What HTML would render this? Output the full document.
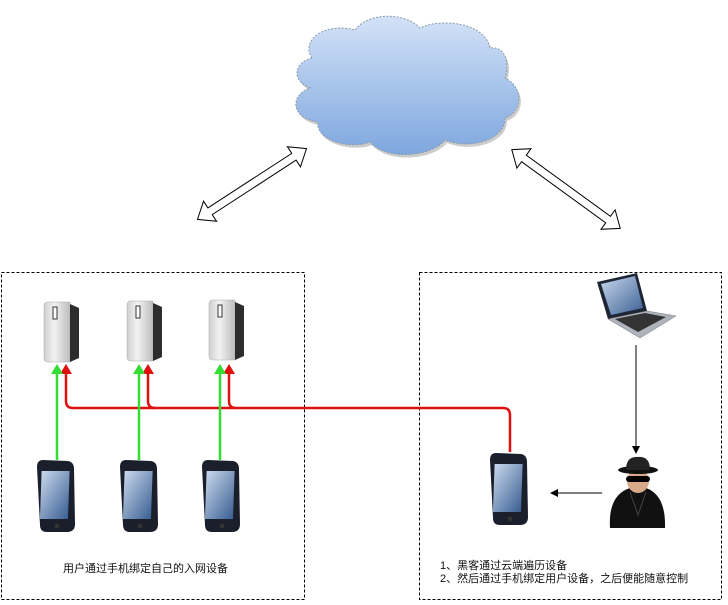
<!DOCTYPE html>
<html><head><meta charset="utf-8"><style>
html,body{margin:0;padding:0;background:#fff;width:728px;height:605px;overflow:hidden}
svg{display:block}
text{font-family:"Liberation Sans","Noto Sans CJK SC",sans-serif;font-size:11px;fill:#111}
</style></head><body>
<svg width="728" height="605" viewBox="0 0 728 605" xmlns="http://www.w3.org/2000/svg">
<defs>
<linearGradient id="cg" x1="0" y1="0" x2="0" y2="1"><stop offset="0" stop-color="#d3e2f7"/><stop offset="1" stop-color="#7ea7df"/></linearGradient>
<linearGradient id="dev" x1="0" y1="0" x2="1" y2="0"><stop offset="0" stop-color="#cfcfcf"/><stop offset="0.4" stop-color="#f2f2f2"/><stop offset="1" stop-color="#bdbdbd"/></linearGradient>
<linearGradient id="scr" x1="0" y1="0" x2="1" y2="1"><stop offset="0" stop-color="#c9d8ec"/><stop offset="1" stop-color="#3a5f93"/></linearGradient>
<g id="device">
<path d="M0,4 Q0,0 4,0 L26,0 L26,60 L4,60 Q0,60 0,56 Z" fill="url(#dev)" stroke="#aaa" stroke-width="0.5"/>
<path d="M26,2 L35,6 L35,56 L26,60 Z" fill="#2d2d2d"/>
<rect x="9" y="5" width="4" height="12" fill="#fff" stroke="#333" stroke-width="1"/>
</g>
<g id="phone">
<path d="M6,0 L31,1 Q37,2 37,9 L38,64 Q38,72 30,72 L10,72 Q3,72 3,65 L0,7 Q0,0 6,0 Z" fill="#1b1f2b"/>
<rect x="5" y="11" width="28" height="48" fill="url(#scr)" transform="skewX(-2)"/>
<circle cx="20" cy="66" r="2.5" fill="#333"/>
</g>
</defs>

<path d="M312,58 C300,40 325,22 355,30 C368,12 405,12 420,28 C440,18 485,22 490,48 C505,46 510,62 505,78 C525,88 522,112 505,118 C505,140 470,150 445,140 C430,158 385,160 370,142 C350,150 315,140 318,122 C290,118 290,95 310,88 C290,80 295,62 312,58 Z" fill="#ccc" transform="translate(2,3)"/>
<path d="M312,58 C300,40 325,22 355,30 C368,12 405,12 420,28 C440,18 485,22 490,48 C505,46 510,62 505,78 C525,88 522,112 505,118 C505,140 470,150 445,140 C430,158 385,160 370,142 C350,150 315,140 318,122 C290,118 290,95 310,88 C290,80 295,62 312,58 Z" fill="url(#cg)" stroke="#8a99aa" stroke-width="1" stroke-dasharray="2,1.5"/>

<g fill="#fff" stroke="#000" stroke-width="1">
<g transform="translate(252,184) rotate(-33)">
<polygon points="-65,0 -50,-12 -50,-4 50,-4 50,-12 65,0 50,12 50,4 -50,4 -50,12"/>
</g>
<g transform="translate(566,189) rotate(36)">
<polygon points="-67,0 -52,-12 -52,-4 52,-4 52,-12 67,0 52,12 52,4 -52,4 -52,12"/>
</g>
</g>

<rect x="1.5" y="272.5" width="303" height="327" fill="none" stroke="#000" stroke-width="1" stroke-dasharray="3,2"/>
<rect x="419.5" y="272.5" width="302" height="327" fill="none" stroke="#000" stroke-width="1" stroke-dasharray="3,2"/>

<use href="#device" x="44" y="302"/>
<use href="#device" x="127" y="301"/>
<use href="#device" x="209" y="300"/>

<use href="#phone" x="37" y="460"/>
<use href="#phone" x="120" y="460"/>
<use href="#phone" x="202" y="460"/>
<use href="#phone" x="490" y="453"/>

<g fill="none" stroke="#e01010" stroke-width="2.5">
<path d="M510,452 L510,415 Q510,408 503,408 L73,408 Q66,408 66,401 L66,372"/>
<path d="M155,408 Q148,408 148,401 L148,372"/>
<path d="M236,408 Q229,408 229,401 L229,372"/>
</g>
<g fill="#e01010">
<polygon points="60,374 66,364 72,374"/>
<polygon points="142,374 148,364 154,374"/>
<polygon points="223,374 229,364 235,374"/>
</g>
<g stroke="#33dd33" stroke-width="2.5">
<line x1="57" y1="460" x2="57" y2="372"/>
<line x1="139" y1="460" x2="139" y2="372"/>
<line x1="220" y1="460" x2="220" y2="372"/>
</g>
<g fill="#33dd33">
<polygon points="51,374 57,364 63,374"/>
<polygon points="133,374 139,364 145,374"/>
<polygon points="214,374 220,364 226,374"/>
</g>

<polygon points="597,282 637,273 647,311 608,319" fill="#1e2535"/>
<polygon points="601,284 635,276 643,308 611,315" fill="url(#scr)"/>
<polygon points="608,319 647,311 676,316 640,338" fill="#aeb3bb" stroke="#777" stroke-width="0.5"/>
<polygon points="615,319 645,313 666,317 638,332" fill="#333"/>

<line x1="636" y1="345" x2="636" y2="448" stroke="#000" stroke-width="1"/>
<polygon points="632,446 636,454 640,446" fill="#000"/>
<line x1="602" y1="493" x2="556" y2="493" stroke="#000" stroke-width="1"/>
<polygon points="558,489 550,493 558,497" fill="#000"/>

<path d="M610,528 Q608,495 630,488 L646,488 Q666,495 665,528 Z" fill="#111"/>
<ellipse cx="638" cy="481" rx="11" ry="12" fill="#d9a98a"/>
<rect x="626" y="476" width="24" height="6" rx="3" fill="#000"/>
<ellipse cx="638" cy="470" rx="20" ry="4" fill="#111"/>
<path d="M626,470 Q626,456 638,457 Q650,456 650,470 Z" fill="#222"/>
<path d="M630,492 L638,515 L646,492" fill="none" stroke="#444" stroke-width="1"/>

<text x="63" y="572">用户通过手机绑定自己的入网设备</text>
<text x="440" y="569">1、黑客通过云端遍历设备</text>
<text x="440" y="582">2、然后通过手机绑定用户设备，之后便能随意控制</text>
</svg>
</body></html>
